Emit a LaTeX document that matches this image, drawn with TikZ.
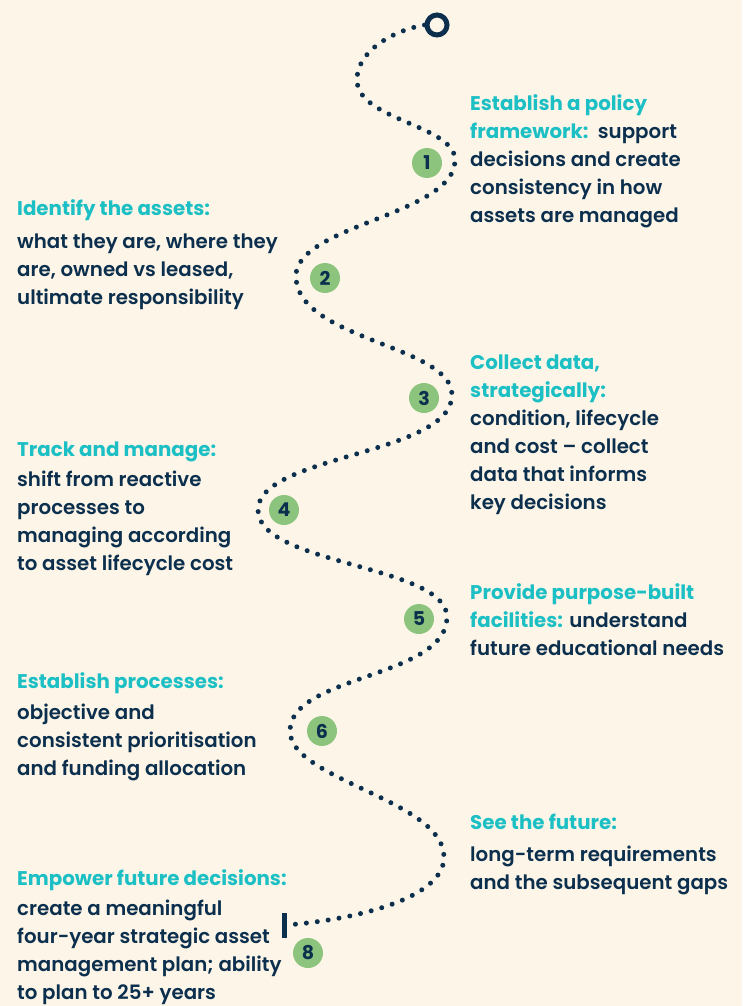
\documentclass[tikz,border=0pt]{standalone}
\usepackage{fontspec}
\setmainfont{Poppins}[UprightFont=* SemiBold, BoldFont=* Bold]
\definecolor{bgc}{HTML}{FDF6E8}
\definecolor{headc}{HTML}{1CBFC4}
\definecolor{navy}{HTML}{0C2F4E}
\definecolor{grn}{HTML}{8CC47E}
\newcommand\hdg[1]{\textcolor{headc}{\bfseries #1}}
\newcommand\fst{\rule{0pt}{20pt}}
\begin{document}
\begin{tikzpicture}[x=1pt,y=-1pt,
 txt/.style={anchor=north west, inner sep=0pt, align=left, text=navy, font=\fontsize{19.8}{28}\selectfont},
 num/.style={circle, fill=grn, minimum size=30pt, inner sep=0pt, text=navy, font=\bfseries\fontsize{19}{19}\selectfont},
 dots/.style={draw=navy, line width=5pt, line cap=round, dash pattern=on 0pt off 11pt}]
\fill[bgc] (0,0) rectangle (742,1006);
\useasboundingbox (0,0) rectangle (742,1006);

% start ring and end bar
\node[circle, draw=navy, line width=5pt, minimum size=20pt, inner sep=0pt] (start) at (437,25) {};
\node[fill=navy, minimum width=5pt, minimum height=25pt, inner sep=0pt] (endbar) at (284,925) {};

% turning points of the wave
\coordinate (L1) at (357,80);
\coordinate (R1) at (455,160);
\coordinate (L2) at (296,276);
\coordinate (R2) at (452,395);
\coordinate (L3) at (258,510);
\coordinate (R3) at (447,617);
\coordinate (L4) at (290,731);
\coordinate (R4) at (444,857);

\draw[dots] (start.west) .. controls (395,30) and (357,50) .. (L1)
 .. controls (357,120) and (455,125) .. (R1)
 .. controls (455,215) and (296,225) .. (L2)
 .. controls (296,340) and (452,345) .. (R2)
 .. controls (452,455) and (258,455) .. (L3)
 .. controls (258,565) and (447,565) .. (R3)
 .. controls (447,678) and (290,675) .. (L4)
 .. controls (290,780) and (444,800) .. (R4)
 .. controls (444,900) and (350,920) .. (endbar.east);

% numbers
\node[num] (n1) at (427,163) {1};
\node[num] (n2) at (325,278) {2};
\node[num] (n3) at (424,398) {3};
\node[num] (n4) at (284,510) {4};
\node[num] (n5) at (419,619) {5};
\node[num] (n6) at (322,731) {6};
\node[num] (n8) at (308,953) {8};

% texts
\node[txt] (t1) at (470,90) {\fst\hdg{Establish a policy}\\\hdg{framework:}\ \ support\\decisions and create\\consistency in how\\assets are managed};
\node[txt] (t2) at (17,195) {\fst\hdg{Identify the assets:}\\[5pt]what they are, where they\\are, owned vs leased,\\ultimate responsibility};
\node[txt] (t3) at (470,349) {\fst\hdg{Collect data,}\\\hdg{strategically:}\\condition, lifecycle\\and cost – collect\\data that informs\\key decisions};
\node[txt] (t4) at (17,436) {\fst\hdg{Track and manage:}\\[2pt]shift from reactive\\processes to\\managing according\\to asset lifecycle cost};
\node[txt] (t5) at (470,579) {\fst\hdg{Provide purpose-built}\\\hdg{facilities:} understand\\future educational needs};
\node[txt] (t6) at (17,668) {\fst\hdg{Establish processes:}\\[3pt]objective and\\consistent prioritisation\\and funding allocation};
\node[txt] (t7) at (470,809) {\fst\hdg{See the future:}\\[4pt]long-term requirements\\and the subsequent gaps};
\node[txt] (t8) at (17,865) {\fst\hdg{Empower future decisions:}\\[2pt]create a meaningful\\four-year strategic asset\\management plan; ability\\to plan to 25+ years};
\end{tikzpicture}
\end{document}
